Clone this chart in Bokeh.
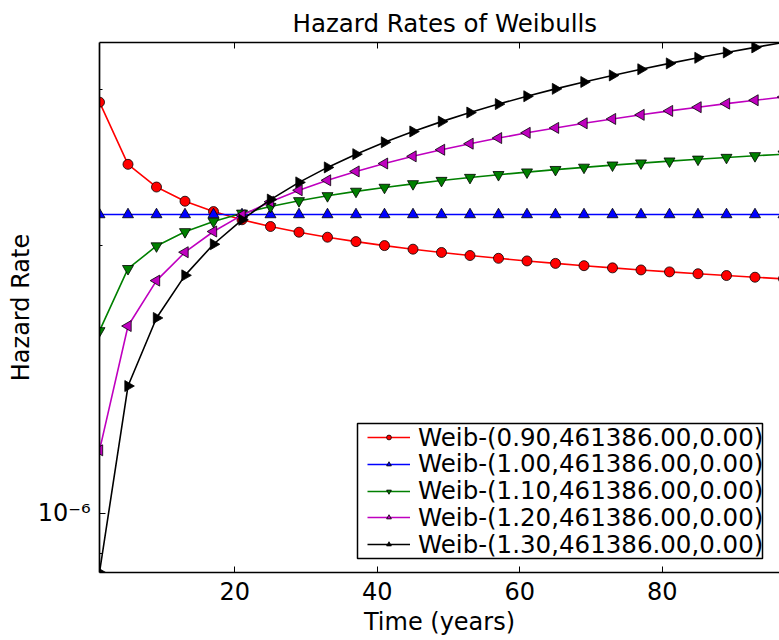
from bokeh.plotting import figure
from bokeh.models import (Range1d, LinearAxis, FixedTicker, CustomJSTickFormatter,
                          Legend, LegendItem, BoxAnnotation)
from bokeh.embed import file_html
from bokeh.resources import INLINE

FONT = "DejaVu Sans"

# Time points (years) and hazard rates of five Weibull models (eta = 461386 h)
years = [1, 5, 9, 13, 17, 21, 25, 29, 33, 37, 41, 45, 49,
         53, 57, 61, 65, 69, 73, 77, 81, 85, 89, 93, 97]

hazard_b090 = [2.8996e-6, 2.4685e-6, 2.3276e-6, 2.2436e-6, 2.1842e-6, 2.1385e-6, 2.1015e-6,
               2.0706e-6, 2.0440e-6, 2.0208e-6, 2.0001e-6, 1.9816e-6, 1.9648e-6, 1.9494e-6,
               1.9353e-6, 1.9222e-6, 1.9100e-6, 1.8987e-6, 1.8880e-6, 1.8779e-6, 1.8685e-6,
               1.8595e-6, 1.8509e-6, 1.8428e-6, 1.8351e-6]
hazard_b100 = [2.1674e-6, 2.1674e-6, 2.1674e-6, 2.1674e-6, 2.1674e-6, 2.1674e-6, 2.1674e-6,
               2.1674e-6, 2.1674e-6, 2.1674e-6, 2.1674e-6, 2.1674e-6, 2.1674e-6, 2.1674e-6,
               2.1674e-6, 2.1674e-6, 2.1674e-6, 2.1674e-6, 2.1674e-6, 2.1674e-6, 2.1674e-6,
               2.1674e-6, 2.1674e-6, 2.1674e-6, 2.1674e-6]
hazard_b110 = [1.6039e-6, 1.8840e-6, 1.9980e-6, 2.0728e-6, 2.1292e-6, 2.1747e-6, 2.2129e-6,
               2.2460e-6, 2.2752e-6, 2.3014e-6, 2.3252e-6, 2.3469e-6, 2.3670e-6, 2.3856e-6,
               2.4030e-6, 2.4193e-6, 2.4348e-6, 2.4494e-6, 2.4632e-6, 2.4764e-6, 2.4890e-6,
               2.5010e-6, 2.5125e-6, 2.5236e-6, 2.5343e-6]
hazard_b120 = [1.1771e-6, 1.6240e-6, 1.8267e-6, 1.9661e-6, 2.0744e-6, 2.1640e-6, 2.2407e-6,
               2.3082e-6, 2.3687e-6, 2.4236e-6, 2.4738e-6, 2.5202e-6, 2.5636e-6, 2.6041e-6,
               2.6423e-6, 2.6783e-6, 2.7126e-6, 2.7452e-6, 2.7763e-6, 2.8061e-6, 2.8347e-6,
               2.8621e-6, 2.8886e-6, 2.9141e-6, 2.9387e-6]
hazard_b130 = [8.5787e-7, 1.3903e-6, 1.6584e-6, 1.8518e-6, 2.0070e-6, 2.1384e-6, 2.2532e-6,
               2.3558e-6, 2.4489e-6, 2.5344e-6, 2.6136e-6, 2.6877e-6, 2.7572e-6, 2.8228e-6,
               2.8852e-6, 2.9445e-6, 3.0012e-6, 3.0553e-6, 3.1074e-6, 3.1576e-6, 3.2059e-6,
               3.2526e-6, 3.2978e-6, 3.3416e-6, 3.3841e-6]

labels = ["Weib-(0.90,461386.00,0.00)", "Weib-(1.00,461386.00,0.00)",
          "Weib-(1.10,461386.00,0.00)", "Weib-(1.20,461386.00,0.00)",
          "Weib-(1.30,461386.00,0.00)"]

x_ticks = [20, 40, 60, 80]
y_major_ticks = [1e-6]
y_minor_ticks = [9e-7, 2e-6, 3e-6]

all_vals = hazard_b090 + hazard_b100 + hazard_b110 + hazard_b120 + hazard_b130

p = figure(width=779, height=640,
           x_range=Range1d(1, 96.44),
           y_range=Range1d(min(all_vals), max(all_vals)),
           y_axis_type="log",
           output_backend="svg", toolbar_location=None,
           min_border_left=99, min_border_right=0,
           min_border_top=42, min_border_bottom=68,
           title="Hazard Rates of Weibulls")

p.outline_line_color = None
p.xgrid.visible = False
p.ygrid.visible = False
p.background_fill_color = "white"
p.border_fill_color = "white"

p.title.align = "left"
p.title.offset = 193
p.title.standoff = 9
p.title.text_font = FONT
p.title.text_font_size = "24.5px"
p.title.text_font_style = "normal"
p.title.text_color = "black"

# bottom axis
xa = p.xaxis[0]
xa.ticker = FixedTicker(ticks=x_ticks)
xa.axis_label = "Time (years)"
xa.minor_tick_line_color = None
xa.major_label_standoff = 9

# left axis
ya = p.yaxis[0]
ya.ticker = FixedTicker(ticks=y_major_ticks, minor_ticks=y_minor_ticks)
ya.formatter = CustomJSTickFormatter(code="""
const e = Math.round(Math.log10(tick));
const sup = {'-':'\\u207b','0':'\\u2070','1':'\\u00b9','2':'\\u00b2','3':'\\u00b3',
             '4':'\\u2074','5':'\\u2075','6':'\\u2076','7':'\\u2077','8':'\\u2078','9':'\\u2079'};
return '10' + String(e).split('').map(c => sup[c]).join('');
""")
ya.axis_label = "Hazard Rate"
ya.major_label_standoff = 9

for ax in (xa, ya):
    ax.axis_line_color = "black"
    ax.axis_line_width = 1.7
    ax.major_tick_in = 6
    ax.major_tick_out = 0
    ax.minor_tick_in = 3
    ax.minor_tick_out = 0
    ax.major_tick_line_color = "black"
    ax.major_label_text_font = FONT
    ax.major_label_text_font_size = "24px"
    ax.major_label_text_color = "black"
    ax.axis_label_text_font = FONT
    ax.axis_label_text_font_size = "24px"
    ax.axis_label_text_font_style = "normal"
    ax.axis_label_text_color = "black"
xa.axis_label_standoff = 5
ya.axis_label_standoff = 0

# top spine with inward ticks, no labels
top = LinearAxis(ticker=FixedTicker(ticks=x_ticks),
                 formatter=CustomJSTickFormatter(code="return ''"),
                 major_label_standoff=0,
                 major_tick_in=6, major_tick_out=0,
                 minor_tick_line_color=None,
                 axis_line_color="black", axis_line_width=1.7)
p.add_layout(top, "above")

series = [
    (hazard_b090, "#ff0000", "circle", 0.0, 10),
    (hazard_b100, "#0000ff", "triangle", 0.0, 11),
    (hazard_b110, "#008000", "inverted_triangle", 0.0, 11),
    (hazard_b120, "#bf00bf", "triangle", 1.5707963, 11),
    (hazard_b130, "#000000", "triangle", -1.5707963, 11),
]

items = []
for (vals, color, marker, ang, size), lab in zip(series, labels):
    rl = p.line(years, vals, line_color=color, line_width=1.6)
    rs = p.scatter(years, vals, marker=marker, angle=ang, size=size,
                   fill_color=color, line_color="black", line_width=0.8)
    items.append(LegendItem(label=lab, renderers=[rl, rs]))

# legend frame (screen units, from the plot area's bottom-left corner)
legend_box = BoxAnnotation(left=258, right=663, bottom=14, top=149,
                           left_units="screen", right_units="screen",
                           bottom_units="screen", top_units="screen",
                           fill_color="white", fill_alpha=1.0,
                           line_color="black", line_width=1.5, line_alpha=1.0)
p.add_layout(legend_box)

# one row per entry, stacked at a fixed pitch inside the frame
row_pitch = 26.75
for i, item in enumerate(items):
    row = Legend(items=[item],
                 location=(268, 13 + row_pitch * (len(items) - 1 - i)),
                 label_text_font=FONT, label_text_font_size="24.5px",
                 label_text_color="black",
                 glyph_width=43, glyph_height=12, label_height=30,
                 label_standoff=8, spacing=0, padding=0, margin=0,
                 border_line_color=None, background_fill_alpha=0.0)
    p.add_layout(row, "center")

open("out.html", "w").write(file_html(p, INLINE))
